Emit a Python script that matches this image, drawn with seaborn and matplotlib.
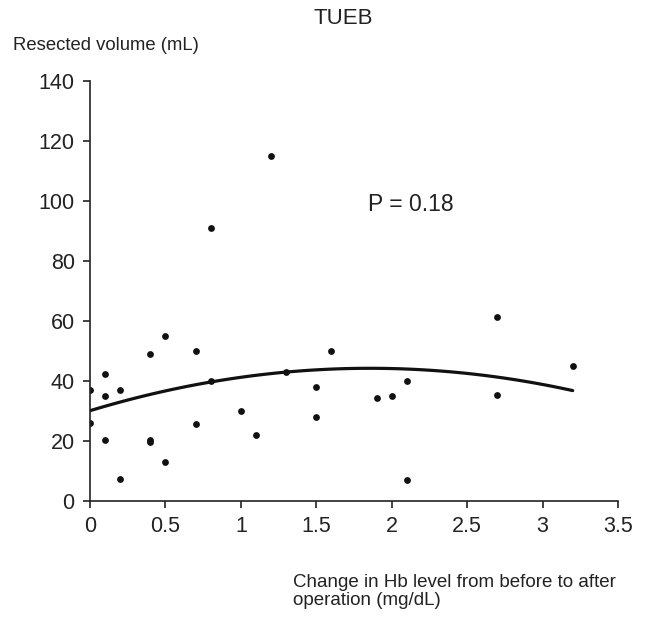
import pandas as pd
import seaborn as sns
import matplotlib.pyplot as plt

# values
hb_change = [0, 0, 0.1, 0.1, 0.1, 0.2, 0.2, 0.4, 0.4, 0.4, 0.5, 0.5, 0.7, 0.7, 0.8,
             0.8, 1.0, 1.1, 1.2, 1.3, 1.5, 1.5, 1.6, 1.9, 2.0, 2.1, 2.1, 2.7, 2.7, 3.2]
volume = [37, 26, 42.5, 35, 20.5, 37, 7.3, 49, 20.5, 19.6, 55, 12.9, 50, 25.8, 40,
          91, 30, 21.9, 115, 43, 38, 28, 50, 34.4, 35, 40, 7.1, 61.5, 35.5, 45]
x_ticks = [0, 0.5, 1, 1.5, 2, 2.5, 3, 3.5]
y_ticks = [0, 20, 40, 60, 80, 100, 120, 140]

df = pd.DataFrame({"hb": hb_change, "vol": volume})

sns.set_style("ticks")
plt.rcParams['font.family'] = ['Liberation Sans', 'DejaVu Sans']

fig = plt.figure(figsize=(6.46, 6.17), dpi=100)
ax = fig.add_axes([0.1393, 0.188, 0.8173, 0.6807])

sns.regplot(data=df, x="hb", y="vol", order=2, ci=None, ax=ax,
            scatter_kws={"s": 24, "color": "#111111", "linewidths": 0, "alpha": 1},
            line_kws={"color": "#111111", "lw": 2.3})

ax.set_xlim(0, 3.5)
ax.set_ylim(0, 140)
ax.set_xticks(x_ticks)
ax.set_xticklabels([f"{t:g}" for t in x_ticks])
ax.set_yticks(y_ticks)
ax.set_xlabel("")
ax.set_ylabel("")
ax.tick_params(axis="both", direction="out", length=5, width=1.2,
               labelsize=15.5, color="#222222", labelcolor="#222222", pad=6)
for side in ["top", "right"]:
    ax.spines[side].set_visible(False)
for side in ["left", "bottom"]:
    ax.spines[side].set_linewidth(1.2)
    ax.spines[side].set_color("#222222")
    ax.spines[side].set_clip_on(False)

ax.text(1.84, 98.7, "P = 0.18", fontsize=16.5, va="center", color="#222222")

fig.text(343 / 646, 1 - 19 / 617, "TUEB", fontsize=16, ha="center", va="center", color="#222222")
fig.text(13 / 646, 1 - 46 / 617, "Resected volume (mL)", fontsize=13.3, ha="left", va="center", color="#222222")
fig.text(293 / 646, 1 - 574 / 617, "Change in Hb level from before to after\noperation (mg/dL)",
         fontsize=13.5, ha="left", va="top", linespacing=1.1, color="#222222")

fig.savefig("out.png", dpi=100)
